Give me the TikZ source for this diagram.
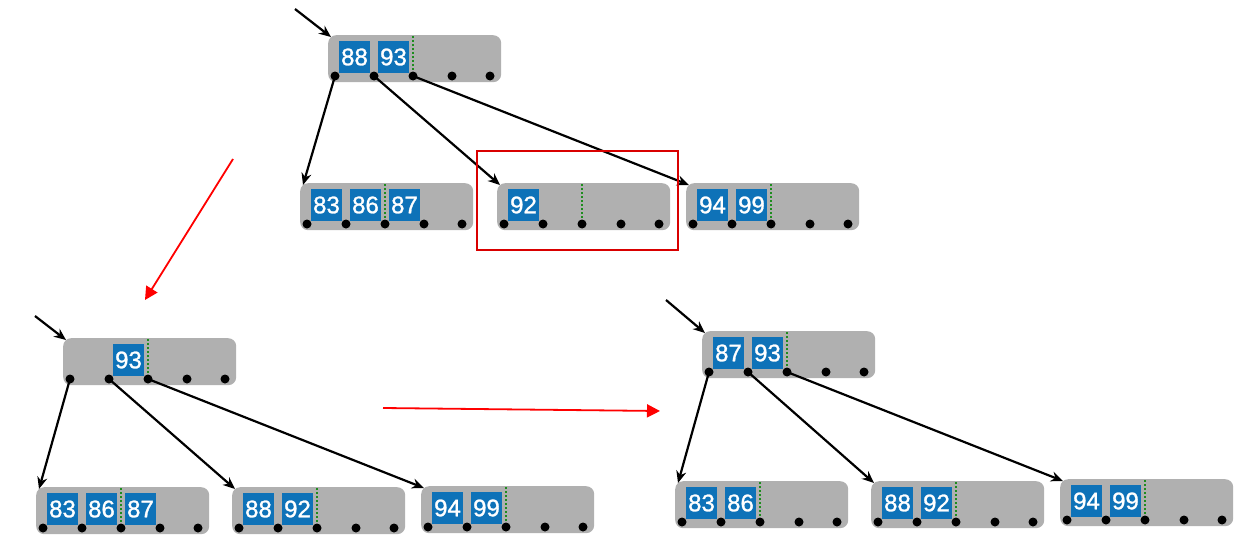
\documentclass[tikz,border=0pt]{standalone}
\usepackage{fontspec}
\setmainfont{Liberation Sans}
\newfontfamily\keyfont[FakeBold=1.2]{Liberation Sans}
\usetikzlibrary{arrows.meta,calc}
\definecolor{kblue}{RGB}{14,114,184}
\definecolor{ngray}{RGB}{176,176,176}
\definecolor{gdot}{RGB}{30,140,30}
\tikzset{
 gbox/.style={fill=ngray, rounded corners=8pt, minimum width=173pt, minimum height=47pt, inner sep=0pt, anchor=north west},
 pdot/.style={circle, fill=black, inner sep=0pt, minimum size=9pt},
 kbox/.style={fill=kblue, text=white, inner sep=0pt, minimum width=31pt, minimum height=32pt, font=\keyfont\fontsize{24}{24}\selectfont},
 gline/.style={draw=gdot, line width=2.2pt, dash pattern=on 2pt off 2pt},
 ptr/.style={draw=black, line width=2.2pt, -{Stealth[length=12pt,width=10pt]}},
 redarr/.style={draw=red, line width=1.8pt, -{Triangle[length=13pt,width=13pt]}},
 redbox/.style={draw=red!85!black, line width=2.4pt, inner sep=0pt, anchor=north west},
}
% name, x, y (top-left), keys pos/text
\newcommand\bnode[4]{%
 \node[gbox] (#1) at (#2,#3) {};
 \coordinate (#1-in) at ($(#1.north west)+(3,2)$);
 \draw[gline] ($(#1.north west)+(85,1)$) -- ($(#1.north west)+(85,41)$);
 \foreach \p/\t in {#4}{%
   \pgfmathsetmacro\kx{26.5+39*(\p-1)}
   \node[kbox] (#1-k\p) at ($(#1.north west)+(\kx,22)$) {\t};
 }
 \foreach \i/\dx in {1/7,2/46,3/85,4/124,5/162}{%
   \node[pdot] (#1-d\i) at ($(#1.north west)+(\dx,41)$) {};
 }
}
\begin{document}
\begin{tikzpicture}[x=1pt,y=-1pt]
\useasboundingbox[fill=white] (0,0) rectangle (1249,543);
% top tree
\bnode{R1}{328}{35}{1/88,2/93}
\bnode{A}{300}{183}{1/83,2/86,3/87}
\bnode{B}{497}{183}{1/92}
\bnode{C}{686}{183}{1/94,2/99}
\coordinate (r1s) at (295,9);
\draw[ptr] (r1s) -- (R1-in);
\draw[ptr] (R1-d1.center) -- (A-in);
\draw[ptr] (R1-d2.center) -- (B-in);
\draw[ptr] (R1-d3.center) -- (C-in);
\node[redbox, minimum width=201pt, minimum height=99pt] (sel) at (476,150) {};
% bottom-left tree
\bnode{R2}{63}{338}{2/93}
\bnode{D}{36}{487}{1/83,2/86,3/87}
\bnode{E}{232}{487}{1/88,2/92}
\bnode{F}{421}{486}{1/94,2/99}
\coordinate (r2s) at (35,316);
\draw[ptr] (r2s) -- (R2-in);
\draw[ptr] (R2-d1.center) -- (D-in);
\draw[ptr] (R2-d2.center) -- (E-in);
\draw[ptr] (R2-d3.center) -- (F-in);
% bottom-right tree
\bnode{R3}{702}{331}{1/87,2/93}
\bnode{G}{675}{481}{1/83,2/86}
\bnode{H}{871}{481}{1/88,2/92}
\bnode{I}{1060}{479}{1/94,2/99}
\coordinate (r3s) at (666,300);
\draw[ptr] (r3s) -- (R3-in);
\draw[ptr] (R3-d1.center) -- (G-in);
\draw[ptr] (R3-d2.center) -- (H-in);
\draw[ptr] (R3-d3.center) -- (I-in);
% red transition arrows
\coordinate (ra1s) at (233,159);
\coordinate (ra1e) at (145,300);
\coordinate (ra2s) at (383,408);
\coordinate (ra2e) at (660,411);
\draw[redarr] (ra1s) -- (ra1e);
\draw[redarr] (ra2s) -- (ra2e);
\end{tikzpicture}
\end{document}
